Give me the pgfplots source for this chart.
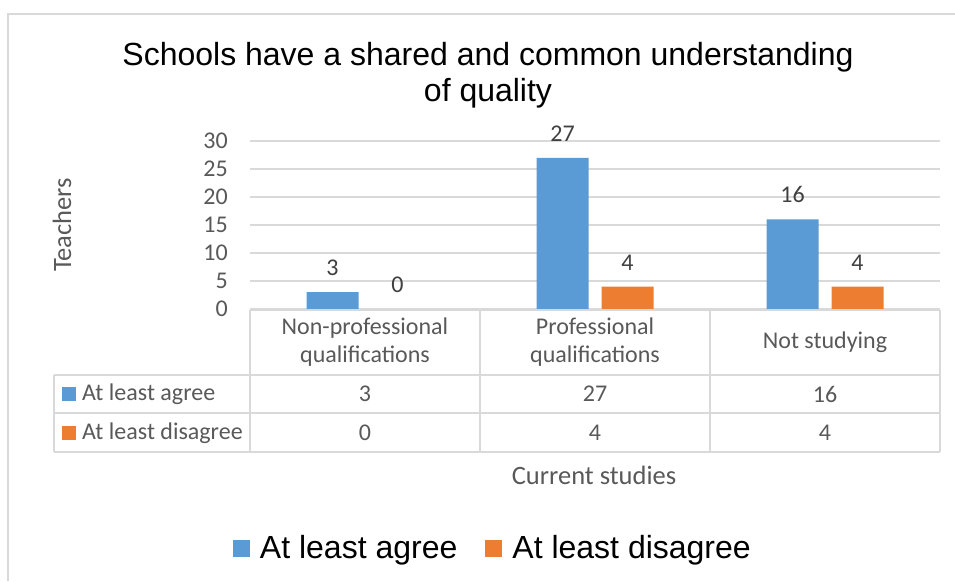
\documentclass[border=0pt]{standalone}
\usepackage{fontspec}
\setmainfont{Carlito}
\newfontfamily\arial{Liberation Sans}
\usepackage{pgfplots}
\pgfplotsset{compat=1.18}
\definecolor{agree}{HTML}{5B9BD5}
\definecolor{disagree}{HTML}{ED7D31}
\definecolor{txt}{HTML}{595959}
\definecolor{lbl}{HTML}{404040}
\definecolor{rule}{HTML}{D9D9D9}
\newcommand{\tabfont}{\fontsize{24}{28.5}\selectfont}

\begin{document}
\begin{tikzpicture}[x=1pt,y=1pt]
\useasboundingbox[fill=white] (0,0) rectangle (955,581);
\draw[rule, line width=1.3pt] (8,0) -- (8,567) -- (955,567);

% title
\node[font=\arial\fontsize{32}{36}\selectfont, align=center] at (488,506)
  {Schools have a shared and common understanding\\of quality};

\begin{axis}[
  at={(250pt,272pt)}, anchor=south west,
  scale only axis, width=690pt, height=168pt,
  ybar=13pt, bar width=52pt,
  xmin=-0.5, xmax=2.5, ymin=0, ymax=30,
  ytick={0,5,...,30},
  xtick={0,1,2},
  xticklabels={Non-professional\\qualifications,Professional\\qualifications,Not studying},
  xticklabel style={anchor=center, yshift=-33pt, align=center, text=txt, font=\tabfont},
  yticklabel style={anchor=east, inner sep=0pt, xshift=-22pt, text=txt, font=\tabfont},
  /pgf/number format/assume math mode=true,
  axis line style={draw=none},
  major tick length=0pt,
  ymajorgrids, grid style={rule, line width=1.3pt},
  ylabel={Teachers},
  ylabel style={at={(axis description cs:-0.2725,0.5)}, anchor=center, rotate=0, text=txt, font=\fontsize{26.5}{30}\selectfont},
  xlabel={Current studies},
  xlabel style={at={(axis description cs:0.4986,-0.988)}, anchor=center, text=txt, font=\fontsize{26.5}{30}\selectfont},
  nodes near coords,
  every node near coord/.append style={text=lbl, font=\tabfont, anchor=south, yshift=13pt},
  legend columns=2,
  legend style={draw=none, fill=none, at={(axis description cs:0.352,-1.4226)}, anchor=center,
    font=\arial\fontsize{32}{36}\selectfont, inner sep=0pt,
    /tikz/every odd column/.append style={column sep=8pt},
    /tikz/every even column/.append style={column sep=26pt}},
  clip=false,
]
\addplot[fill=agree, draw=none,
  legend image code/.code={\path[fill=agree] (0pt,-8.5pt) rectangle (17pt,8.5pt);}]
  coordinates {(0,3) (1,27) (2,16)};
\addplot[fill=disagree, draw=none,
  legend image code/.code={\path[fill=disagree] (0pt,-8.5pt) rectangle (17pt,8.5pt);}]
  coordinates {(0,0) (1,4) (2,4)};
\legend{At least agree, At least disagree}
\end{axis}

% data table
\begin{scope}[rule, line width=1.3pt]
  \draw (250,271) -- (940,271);
  \draw (54,206) -- (940,206);
  \draw (54,168) -- (940,168);
  \draw (54,129) -- (940,129);
  \draw (54,206) -- (54,129);
  \foreach \x in {250,480,710,940} \draw (\x,271) -- (\x,129);
\end{scope}
\fill[agree] (62,180) rectangle (76,194);
\fill[disagree] (62,141) rectangle (76,155);
\begin{scope}[every node/.style={font=\tabfont, text=txt, inner sep=0pt}]
  \node[anchor=west] at (82,187) {At least agree};
  \node[anchor=west] at (82,148) {At least disagree};
  \node at (365,187) {3};  \node at (595,187) {27}; \node at (825,187) {16};
  \node at (365,148) {0};  \node at (595,148) {4};  \node at (825,148) {4};
\end{scope}
\end{tikzpicture}
\end{document}
